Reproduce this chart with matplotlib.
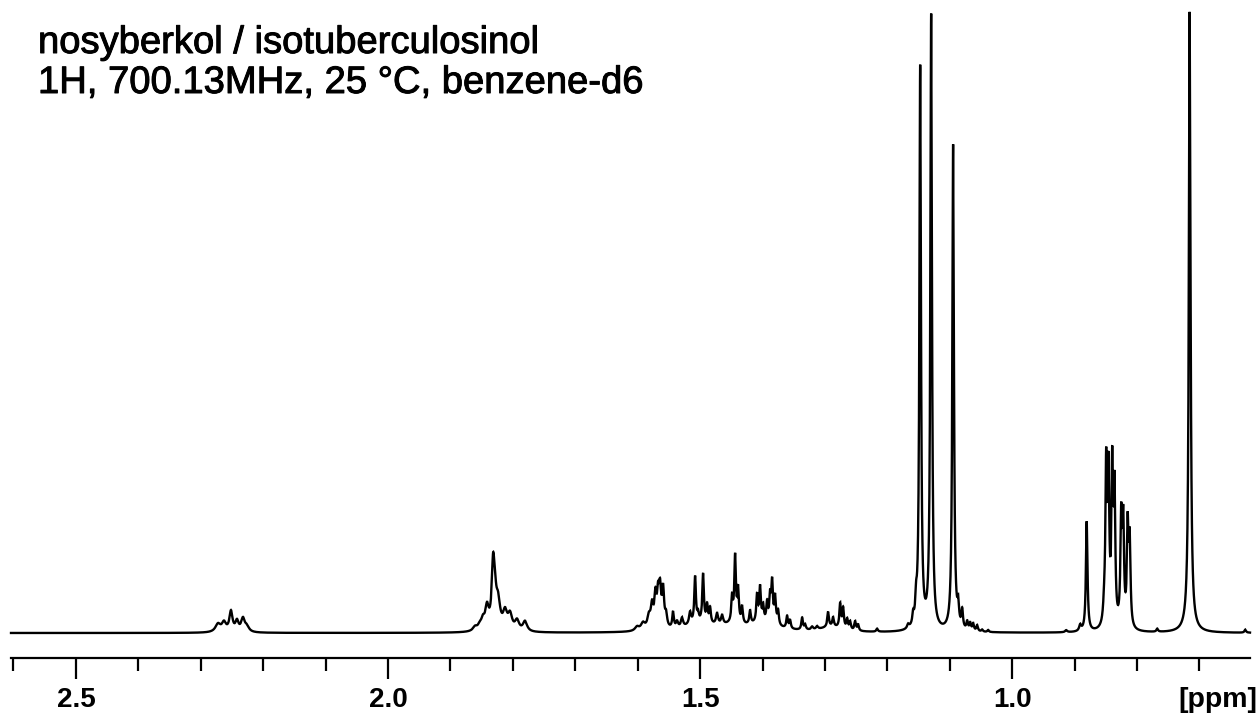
import numpy as np
import matplotlib
matplotlib.use("Agg")
import matplotlib.pyplot as plt
import matplotlib.patheffects as pe
from matplotlib.ticker import MultipleLocator, FixedLocator

# ---------------- data ----------------
title_lines = ["nosyberkol / isotuberculosinol",
               "1H, 700.13MHz, 25 \u00b0C, benzene-d6"]
axis_unit = "[ppm]"
major_ticks = [2.5, 2.0, 1.5, 1.0]
tick_labels = ["2.5", "2.0", "1.5", "1.0"]
ppm_left, ppm_right = 2.604, 0.619

# peak positions (ppm), heights (arbitrary, ~pixel units), line widths (ppm FWHM)
peak_ppm = [
    2.2724, 2.2628, 2.2516, 2.2420, 2.2324, 2.2260,
    1.8606, 1.8526, 1.8478, 1.8414, 1.8317, 1.8290, 1.8237, 1.8125, 1.8045, 1.7933, 1.7805,
    1.6010, 1.5914, 1.5820, 1.5769, 1.5715, 1.5673, 1.5641, 1.5593, 1.5545,
    1.5433, 1.5369, 1.5289, 1.5160, 1.5080, 1.5032, 1.4952, 1.4888, 1.4840, 1.4728, 1.4647,
    1.4487, 1.4439, 1.4391, 1.4327, 1.4199, 1.4087, 1.4039, 1.3990, 1.3926, 1.3878, 1.3846,
    1.3798, 1.3750, 1.3606, 1.3558, 1.3365, 1.3317, 1.3205, 1.3125,
    1.2949, 1.2869, 1.2756, 1.2708, 1.2644, 1.2596, 1.2516, 1.2468, 1.2164,
    1.5000, 1.4500, 1.4000, 1.2900,
    1.1667, 1.1587, 1.1539, 1.1474, 1.1298, 1.0946,
    1.0865, 1.0801, 1.0721, 1.0673, 1.0625, 1.0561, 1.0481, 1.0385,
    0.9135, 0.8910, 0.8806,
    0.8526, 0.8494, 0.8457, 0.8397, 0.8361, 0.8253, 0.8221, 0.8149, 0.8117,
    0.7676, 0.7156, 0.7156, 0.6266,
]
peak_height = [
    8, 9, 20, 10, 13, 5,
    4, 5, 8, 22, 55, 28, 26, 17, 15, 10, 10,
    4, 7, 12, 22, 30, 30, 35, 37, 12,
    16, 6, 9, 12, 46, 8, 48, 17, 15, 11, 9,
    25, 66, 33, 17, 13, 27, 34, 15, 19, 25, 40,
    27, 14, 12, 8, 12, 5, 3, 3,
    15, 9, 24, 20, 10, 8, 9, 6, 3,
    8, 4, 8, 5,
    4, 10, 20, 562, 614, 486,
    20, 18, 8, 7, 7, 6, 2, 2,
    2, 6, 110,
    14, 155, 145, 153, 130, 104, 100, 98, 83,
    3, 614, 7, 3,
]
peak_width = [
    0.010, 0.008, 0.006, 0.006, 0.007, 0.008,
    0.008, 0.008, 0.006, 0.007, 0.005, 0.006, 0.008, 0.008, 0.008, 0.008, 0.008,
    0.008, 0.008, 0.006, 0.005, 0.004, 0.004, 0.004, 0.004, 0.004,
    0.003, 0.004, 0.004, 0.004, 0.003, 0.003, 0.003, 0.003, 0.003, 0.004, 0.004,
    0.003, 0.003, 0.003, 0.003, 0.003, 0.003, 0.003, 0.003, 0.003, 0.003, 0.003,
    0.003, 0.003, 0.003, 0.003, 0.003, 0.003, 0.004, 0.004,
    0.003, 0.003, 0.003, 0.003, 0.003, 0.003, 0.003, 0.003, 0.003,
    0.06, 0.04, 0.06, 0.04,
    0.004, 0.003, 0.003, 0.003, 0.003, 0.003,
    0.003, 0.003, 0.003, 0.003, 0.003, 0.003, 0.003, 0.003,
    0.004, 0.004, 0.003,
    0.004, 0.003, 0.003, 0.003, 0.003, 0.003, 0.003, 0.003, 0.003,
    0.003, 0.0032, 0.015, 0.003,
]

# ---------------- build spectrum from the peak list ----------------
ppm = np.linspace(ppm_right, ppm_left, 40000)
intensity = np.zeros_like(ppm)
for p, h, w in zip(peak_ppm, peak_height, peak_width):
    intensity += h / (1.0 + ((ppm - p) / (w / 2.0)) ** 2)

# ---------------- figure ----------------
W, H = 1259, 717
fig = plt.figure(figsize=(W / 100, H / 100), dpi=100)
fig.patch.set_facecolor("white")

base_px = 633
ax = fig.add_axes([11 / W, (H - base_px) / H, (1250 - 11) / W, base_px / H])
ax.plot(ppm, intensity, color="black", lw=1.7, clip_on=False,
        solid_joinstyle="miter")
ax.set_xlim(ppm_left, ppm_right)
ax.set_ylim(0, base_px)

for s in ["top", "left", "right"]:
    ax.spines[s].set_visible(False)
ax.spines["bottom"].set_position(("outward", 18))
ax.spines["bottom"].set_linewidth(1.6)
ax.yaxis.set_visible(False)

ax.xaxis.set_major_locator(FixedLocator(major_ticks))
ax.set_xticklabels(tick_labels)
ax.xaxis.set_minor_locator(MultipleLocator(0.1))
ax.tick_params(axis="x", which="major", direction="out", length=15, width=1.6,
               pad=6, labelsize=20)
ax.tick_params(axis="x", which="minor", direction="out", length=9, width=1.6)
for lab in ax.get_xticklabels():
    lab.set_fontweight("bold")
    lab.set_fontfamily("Liberation Sans")

fig.text(1257 / W, 1 - 700 / H, axis_unit, ha="right", va="center",
         fontsize=20.5, fontweight="bold", family="Liberation Sans")

stroke = [pe.withStroke(linewidth=0.7, foreground="black")]
fig.text(38 / W, 1 - 53 / H, title_lines[0], ha="left", va="baseline",
         fontsize=27.5, family="Liberation Sans", path_effects=stroke)
fig.text(38 / W, 1 - 93 / H, title_lines[1], ha="left", va="baseline",
         fontsize=27.5, family="Liberation Sans", path_effects=stroke)

fig.savefig("out.png", dpi=100, facecolor="white")
